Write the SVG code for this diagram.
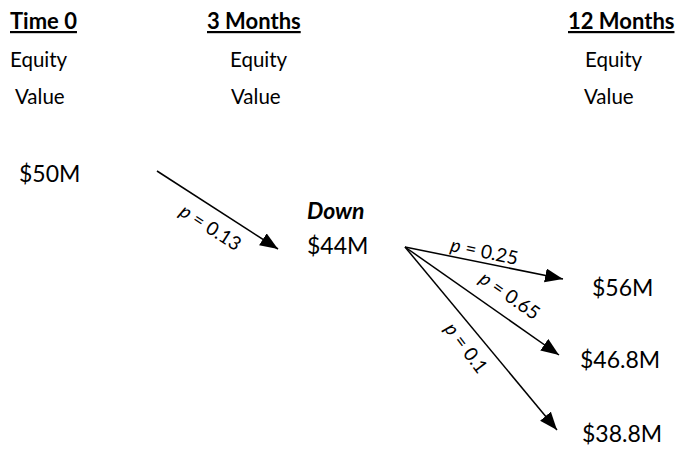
<svg xmlns="http://www.w3.org/2000/svg" width="685" height="450" viewBox="0 0 685 450">
<defs>
<style>
text{font-family:Lato,"Liberation Sans",sans-serif;font-size:23px;fill:#000}
.hd{font-weight:bold;text-decoration:underline;font-size:22px}
.sub{font-size:20.5px}
.dn{font-weight:bold;font-style:italic}
.lb{font-size:19px}
.lb tspan.p{font-style:italic}
.cn line{stroke:#000;stroke-width:1.5;marker-end:url(#ah)}
</style>
<marker id="ah" markerUnits="userSpaceOnUse" markerWidth="19" markerHeight="15" refX="18" refY="7" orient="auto">
<path d="M0,0 L18,7 L0,14 z" fill="#000"/>
</marker>
</defs>
<rect width="685" height="450" fill="#fff"/>
<g id="col-time0">
<text class="hd" x="10" y="29">Time 0</text>
<text class="sub" x="10" y="67">Equity</text>
<text class="sub" x="15" y="104">Value</text>
</g>
<g id="col-3m">
<text class="hd" x="207" y="29">3 Months</text>
<text class="sub" x="230" y="67">Equity</text>
<text class="sub" x="231" y="104">Value</text>
</g>
<g id="col-12m">
<text class="hd" x="568" y="29">12 Months</text>
<text class="sub" x="585" y="67">Equity</text>
<text class="sub" x="584" y="104">Value</text>
</g>
<g id="node-50"><text x="19" y="182">$50M</text></g>
<g id="node-44"><text class="dn" x="307" y="219">Down</text><text x="307" y="254">$44M</text></g>
<g id="node-56"><text x="592" y="296">$56M</text></g>
<g id="node-468"><text x="580" y="368">$46.8M</text></g>
<g id="node-388"><text x="582" y="442">$38.8M</text></g>
<g id="connectors" class="cn">
<line x1="157" y1="171" x2="278" y2="249"/>
<line x1="405" y1="247" x2="563" y2="279"/>
<line x1="405" y1="247" x2="559" y2="355"/>
<line x1="405" y1="247" x2="557" y2="430"/>
</g>
<g id="labels">
<text class="lb" text-anchor="middle" transform="translate(207,233) rotate(33)"><tspan class="p">p</tspan> = 0.13</text>
<text class="lb" text-anchor="middle" transform="translate(483,258) rotate(12)"><tspan class="p">p</tspan> = 0.25</text>
<text class="lb" text-anchor="middle" transform="translate(506,301) rotate(35)"><tspan class="p">p</tspan> = 0.65</text>
<text class="lb" text-anchor="middle" transform="translate(461,352) rotate(53)"><tspan class="p">p</tspan> = 0.1</text>
</g>
</svg>
